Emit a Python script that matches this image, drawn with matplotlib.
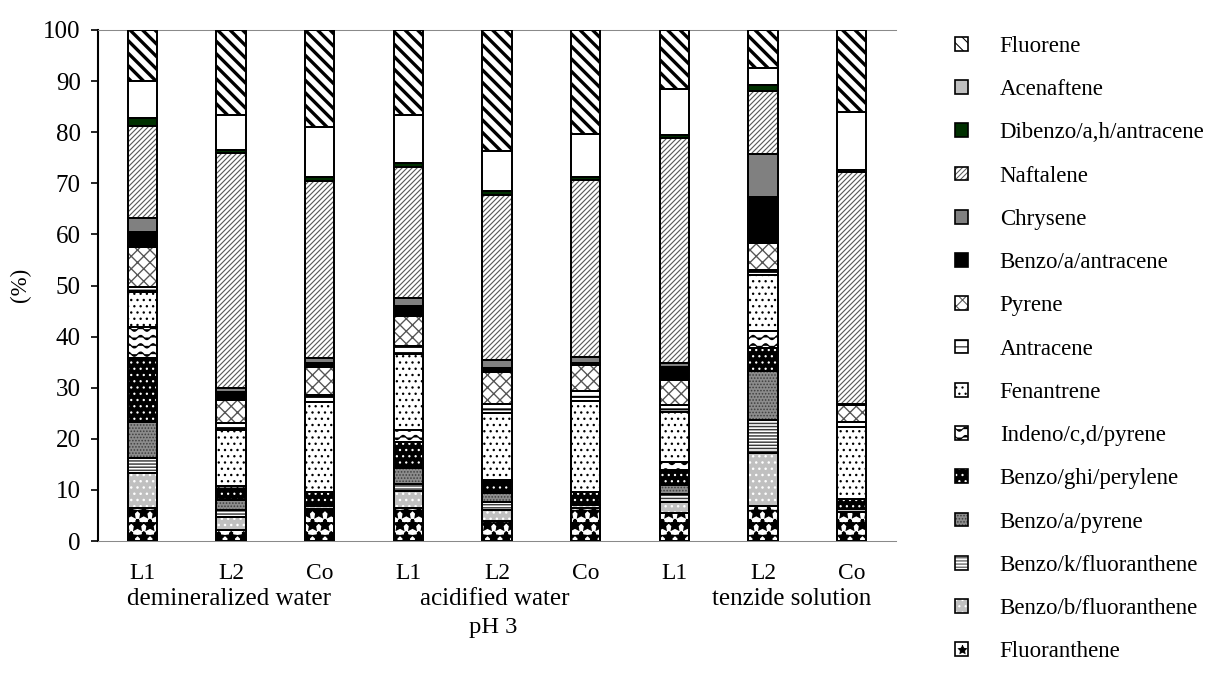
import numpy as np
import matplotlib
matplotlib.use('Agg')
import matplotlib.pyplot as plt
import matplotlib.hatch as mhatch
import matplotlib.transforms as mtransforms
from matplotlib.path import Path
import matplotlib.patches as mpatches

plt.rcParams['font.family'] = ['Liberation Serif', 'DejaVu Serif']

# ---------------- data ----------------
samples = ['L1', 'L2', 'Co', 'L1', 'L2', 'Co', 'L1', 'L2', 'Co']
groups = ['demineralized water', 'acidified water', 'tenzide solution']
xlabel_text = 'pH 3'
ylabel_text = '(%)'
yticks = [0, 10, 20, 30, 40, 50, 60, 70, 80, 90, 100]

compounds = ['Fluoranthene', 'Benzo/b/fluoranthene', 'Benzo/k/fluoranthene',
             'Benzo/a/pyrene', 'Benzo/ghi/perylene', 'Indeno/c,d/pyrene',
             'Fenantrene', 'Antracene', 'Pyrene', 'Benzo/a/antracene',
             'Chrysene', 'Naftalene', 'Dibenzo/a,h/antracene', 'Acenaftene',
             'Fluorene']

fluoranthene = [6.5, 2.2, 6.2, 6.4, 3.9, 6.5, 5.4, 6.8, 5.7]
benzo_b_fluoranthene = [6.8, 2.4, 0.6, 3.3, 2.2, 0.5, 2.3, 10.5, 0.5]
benzo_k_fluoranthene = [3.0, 1.4, 0.0, 1.4, 1.5, 0.0, 1.4, 6.4, 0.0]
benzo_a_pyrene = [6.9, 2.0, 0.0, 3.1, 1.7, 0.0, 1.9, 9.5, 0.0]
benzo_ghi_perylene = [12.6, 2.2, 2.7, 5.2, 2.2, 2.6, 2.9, 4.5, 2.0]
indeno_cd_pyrene = [6.0, 0.6, 0.0, 2.3, 0.4, 0.0, 1.6, 3.3, 0.0]
fenantrene = [7.0, 11.0, 17.7, 14.9, 13.1, 17.8, 9.8, 11.0, 14.2]
antracene = [1.0, 1.2, 1.3, 1.6, 1.9, 1.9, 1.4, 1.0, 0.8]
pyrene = [7.7, 4.6, 5.5, 5.9, 6.1, 5.1, 4.8, 5.3, 3.4]
benzo_a_antracene = [3.0, 1.6, 0.8, 1.8, 0.9, 0.5, 2.6, 9.0, 0.3]
chrysene = [2.8, 0.8, 1.0, 1.7, 1.5, 1.1, 0.7, 8.4, 0.0]
naftalene = [18.0, 46.0, 34.7, 25.5, 32.3, 34.6, 44.0, 12.3, 45.3]
dibenzo_ah_antracene = [1.5, 0.6, 0.7, 0.8, 0.8, 0.6, 0.6, 1.3, 0.5]
acenaftene = [7.2, 6.7, 9.8, 9.5, 7.8, 8.4, 9.0, 3.2, 11.2]
fluorene = [10.0, 16.7, 19.0, 16.6, 23.7, 20.4, 11.6, 7.5, 16.1]

series = [fluoranthene, benzo_b_fluoranthene, benzo_k_fluoranthene,
          benzo_a_pyrene, benzo_ghi_perylene, indeno_cd_pyrene, fenantrene,
          antracene, pyrene, benzo_a_antracene, chrysene, naftalene,
          dibenzo_ah_antracene, acenaftene, fluorene]

# ---------------- styles: (face, hatch, hatch colour, hatch lw, legend face) ----------------
styles = [
    ('white', '*', 'black', 3.0, 'white'),
    ('#c0c0c0', '..', 'white', 1.2, '#c0c0c0'),
    ('white', '----', '#3a3a3a', 1.4, 'white'),
    ('#8c8c8c', '....', '#404040', 1.0, '#8c8c8c'),
    ('black', '..', 'white', 1.0, 'black'),
    ('white', '|', 'black', 1.2, 'white'),
    ('white', '..', 'black', 1.1, 'white'),
    ('white', '--', 'black', 2.0, 'white'),
    ('white', 'xx', '#555555', 1.3, 'white'),
    ('black', '', 'black', 1.0, 'black'),
    ('#808080', '', '#808080', 1.0, '#808080'),
    ('white', '/////', '#5a5a5a', 1.1, 'white'),
    ('#003000', '', '#003000', 1.0, '#003000'),
    ('white', '', 'white', 1.0, '#c0c0c0'),
    ('white', '\\\\', 'black', 3.2, 'white'),
]


# custom wavy hatch, used in place of the vertical-line hatch ('|')
class WaveHatch(mhatch.HatchPatternBase):
    def __init__(self, hatch, density):
        self.num_lines = int(hatch.count('|') * density * 1.5)
        self.npts = 61
        self.num_vertices = self.num_lines * self.npts

    def set_vertices_and_codes(self, vertices, codes):
        t = np.linspace(0.0, 1.0, self.npts)
        k = 0
        for i in range(self.num_lines):
            y0 = (i + 0.5) / self.num_lines
            vertices[k:k + self.npts, 0] = t
            vertices[k:k + self.npts, 1] = y0 + 0.028 * np.sin(2 * np.pi * 6 * t)
            codes[k] = Path.MOVETO
            codes[k + 1:k + self.npts] = Path.LINETO
            k += self.npts


mhatch._hatch_types = [WaveHatch if c is mhatch.VerticalHatch else c
                       for c in mhatch._hatch_types]

DPI = 75
fig = plt.figure(figsize=(1212 / DPI, 675 / DPI), dpi=DPI)
ax = fig.add_axes([98 / 1212, 1 - 541 / 675, (896 - 98) / 1212, (541 - 30) / 675])

x = np.arange(len(samples))
width = 0.33
bottom = np.zeros(len(samples))
bottoms = []
for vals, (face, hatch, hc, hlw, lface) in zip(series, styles):
    vals = np.asarray(vals, dtype=float)
    with plt.rc_context({'hatch.linewidth': hlw}):
        bars = ax.bar(x, vals, width, bottom=bottom, color=face, edgecolor=hc,
                      linewidth=0, hatch=hatch if hatch else None, zorder=2)
    for b in bars:
        if hasattr(b, 'set_hatch_linewidth'):
            b.set_hatch_linewidth(hlw)
    bottoms.append(bottom.copy())
    bottom = bottom + vals

for vals, b0 in zip(series, bottoms):
    ax.bar(x, vals, width, bottom=b0, fill=False, edgecolor='black',
           linewidth=1.9, zorder=3)

ax.set_xlim(-0.5, 8.5)
ax.set_ylim(0, 100)
ax.set_yticks(yticks)
ax.set_yticklabels([str(v) for v in yticks])
ax.set_xticks(x)
ax.set_xticklabels(samples)
ax.tick_params(axis='y', direction='out', length=6.5, width=1.6, pad=10,
               labelsize=24, colors='black')
ax.tick_params(axis='x', length=0, pad=21, labelsize=22.5)
ax.spines['left'].set_linewidth(2.0)
ax.spines['left'].set_color('black')
for s in ('top', 'bottom'):
    ax.spines[s].set_color('#8a8a8a')
    ax.spines[s].set_linewidth(1.0)
ax.spines['right'].set_visible(False)

trans = mtransforms.blended_transform_factory(ax.transData, fig.transFigure)
group_x = [0.98, 3.97, 7.32]
for gx, g in zip(group_x, groups):
    ax.text(gx, 1 - 599 / 675, g, transform=trans, ha='center', va='center',
            fontsize=24)
ax.text(3.96, 1 - 628 / 675, xlabel_text, transform=trans, ha='center',
        va='center', fontsize=23.5)
fig.text(20 / 1212, 1 - 285 / 675, ylabel_text, rotation=90, ha='center',
         va='center', fontsize=22)

# legend
handles = []
labels = []
for name, (face, hatch, hc, hlw, lface) in reversed(list(zip(compounds, styles))):
    p1 = mpatches.Patch(facecolor=lface, edgecolor=hc if hatch else lface,
                        hatch=hatch if hatch else None, linewidth=0)
    p2 = mpatches.Patch(fill=False, edgecolor='black', linewidth=1.6)
    handles.append((p1, p2))
    labels.append(name)

fig.legend(handles, labels, loc='upper left',
           bbox_to_anchor=(955 / 1212, 1 - 36 / 675), frameon=False,
           fontsize=22, handlelength=0.55, handleheight=0.55,
           handletextpad=1.4, labelspacing=0.97, borderaxespad=0,
           borderpad=0)

fig.savefig('out.png', dpi=DPI)
